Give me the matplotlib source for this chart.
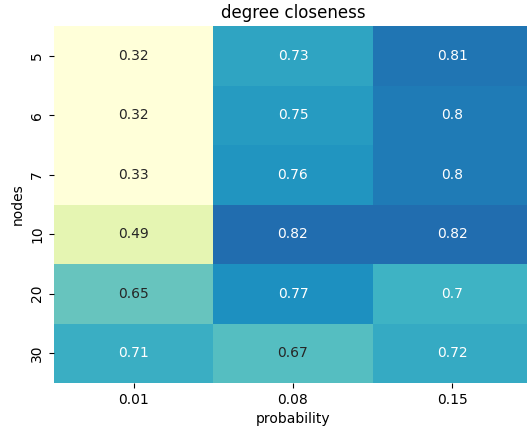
import numpy as np
import matplotlib
matplotlib.use("Agg")
import matplotlib.pyplot as plt
import seaborn as sns
import pandas as pd

nodes = [5, 6, 7, 10, 20, 30]
probability = ["0.01", "0.08", "0.15"]
p001 = [0.32, 0.32, 0.33, 0.49, 0.65, 0.71]
p008 = [0.73, 0.75, 0.76, 0.82, 0.77, 0.67]
p015 = [0.81, 0.80, 0.80, 0.82, 0.70, 0.72]

df = pd.DataFrame(dict(zip(probability, [p001, p008, p015])), index=nodes)

fig = plt.figure(figsize=(5.27, 4.3), dpi=100)
ax = fig.add_subplot(111)
sns.heatmap(df, annot=True, cmap="YlGnBu", vmin=0.40, vmax=0.99, cbar=False, ax=ax)
ax.set_title("degree closeness")
ax.set_xlabel("probability")
ax.set_ylabel("nodes")
# axes runs a little past the right edge of the figure, as in the original
plt.subplots_adjust(left=54/527, right=532/527, top=1-26/430, bottom=1-383/430)
plt.savefig("out.png", dpi=100)
